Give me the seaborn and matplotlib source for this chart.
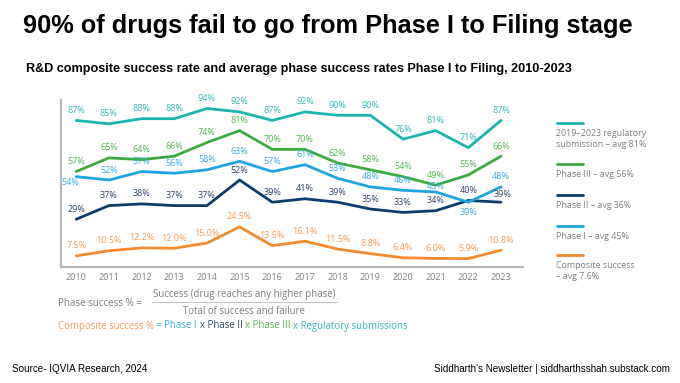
import pandas as pd
import matplotlib.pyplot as plt
import seaborn as sns
from matplotlib.lines import Line2D

# success rates by year
years = list(range(2010, 2024))
regulatory = [87, 85, 88, 88, 94, 92, 87, 92, 90, 90, 76, 81, 71, 87]
phase3 = [57, 65, 64, 66, 74, 81, 70, 70, 62, 58, 54, 49, 55, 66]
phase2 = [29, 37, 38, 37, 37, 52, 39, 41, 39, 35, 33, 34, 40, 39]
phase1 = [54, 52, 57, 56, 58, 63, 57, 61, 53, 48, 46, 45, 39, 48]
composite = [7.5, 10.5, 12.2, 12.0, 15.0, 24.5, 13.5, 16.1, 11.5, 8.8, 6.4, 6.0, 5.9, 10.8]

series_names = ["Regulatory", "Phase III", "Phase II", "Phase I", "Composite"]
legend_labels = ["2019\u20132023 regulatory\nsubmission \u2013 avg 81%",
                 "Phase III \u2013 avg 56%",
                 "Phase II \u2013 avg 36%",
                 "Phase I \u2013 avg 45%",
                 "Composite success\n\u2013 avg 7.6%"]

line_colors = ["#1bb3ae", "#3aab3f", "#0d3b6b", "#1ea4e0", "#f28a2e"]
label_colors = ["#35bab5", "#55b455", "#2f4566", "#3aaae2", "#f29a55"]
gray = "#7b7f86"

df = pd.DataFrame({
    "year": years * 5,
    "value": regulatory + phase3 + phase2 + phase1 + composite,
    "series": sum([[s] * len(years) for s in series_names], []),
})

sns.set_style("white")
plt.rcParams["font.family"] = ["Open Sans", "DejaVu Sans"]

fig = plt.figure(figsize=(6.8, 3.83), dpi=100)
ax = fig.add_axes([0.09, 0.303, 0.679, 0.436])

sns.lineplot(data=df, x="year", y="value", hue="series", hue_order=series_names,
             palette=line_colors, linewidth=2, legend=False, ax=ax)

ax.set_xlim(2009.54, 2023.67)
ax.set_ylim(1, 99)
ax.set_xticks(years)
ax.set_xticklabels([str(y) for y in years], fontsize=6.5, color=gray)
ax.set_yticks([])
ax.set_xlabel("")
ax.set_ylabel("")
ax.tick_params(axis="x", length=0, pad=4)
for side in ["top", "right"]:
    ax.spines[side].set_visible(False)
for side in ["left", "bottom"]:
    ax.spines[side].set_color("#b5b7ba")
    ax.spines[side].set_linewidth(1.6)

# data labels: default above, a few moved
all_vals = [regulatory, phase3, phase2, phase1, composite]
special = {("Phase I", 0): (-4, -4), ("Phase I", 12): (0, -7.5), ("Phase I", 11): (0, 4),
           ("Phase II", 13): (1, 5.5)}
for name, vals, col in zip(series_names, all_vals, label_colors):
    for i, (yr, v) in enumerate(zip(years, vals)):
        txt = f"{v:.1f}%" if name == "Composite" else f"{v:.0f}%"
        off = special.get((name, i), (0, 7.2))
        ax.annotate(txt, (yr, v), xytext=off, textcoords="offset points",
                    ha="center", va="center", fontsize=6.5, color=col)

# legend at right
leg_y = [123, 164, 195, 226, 255]
for lab, col, y in zip(legend_labels, line_colors, leg_y):
    yf = 1 - y / 383
    fig.add_artist(Line2D([557 / 680, 583 / 680], [yf, yf], color=col, lw=2,
                          transform=fig.transFigure))
    fig.text(556 / 680, yf - 6 / 383, lab, fontsize=6.4, color=gray, va="top",
             ha="left", linespacing=1.25)

# formula
fig.text(58 / 680, 1 - 304 / 383, "Phase success % =", fontsize=7, color=gray, va="center")
fig.text(244 / 680, 1 - 295 / 383, "Success (drug reaches any higher phase)", fontsize=6.9,
         color=gray, va="center", ha="center")
fig.add_artist(Line2D([152 / 680, 337 / 680], [1 - 302 / 383, 1 - 302 / 383], color="#c0c2c5",
                      lw=0.8, transform=fig.transFigure))
fig.text(244 / 680, 1 - 311 / 383, "Total of success and failure", fontsize=6.9,
         color=gray, va="center", ha="center")

pieces = [("Composite success % ", label_colors[4]), ("= Phase I ", label_colors[3]),
          ("x Phase II ", label_colors[2]), ("x Phase III ", label_colors[1]),
          ("x Regulatory submissions", label_colors[0])]
prev = fig.text(58 / 680, 1 - 326 / 383, pieces[0][0], fontsize=6.95, color=pieces[0][1], va="center")
for txt, col in pieces[1:]:
    prev = ax.annotate(txt, xy=(1, 0.5), xycoords=prev, va="center", ha="left",
                       fontsize=6.95, color=col, annotation_clip=False)

# title, subtitle, footer
fig.text(23 / 680, 1 - 33 / 383, "90% of drugs fail to go from Phase I to Filing stage",
         fontsize=18.3, fontweight="bold", family="Liberation Sans", va="baseline", color="black")
fig.text(26 / 680, 1 - 72 / 383,
         "R&D composite success rate and average phase success rates Phase I to Filing, 2010-2023",
         fontsize=9.1, fontweight="bold", family="Liberation Sans", va="baseline", color="black")
fig.text(12 / 680, 1 - 372 / 383, "Source- IQVIA Research, 2024", fontsize=7.1,
         family="Liberation Sans", va="baseline", color="black")
fig.text(670 / 680, 1 - 372 / 383, "Siddharth\u2019s Newsletter | siddharthsshah.substack.com",
         fontsize=7.1, family="Liberation Sans", va="baseline", ha="right", color="black")

fig.savefig("out.png", dpi=100)
